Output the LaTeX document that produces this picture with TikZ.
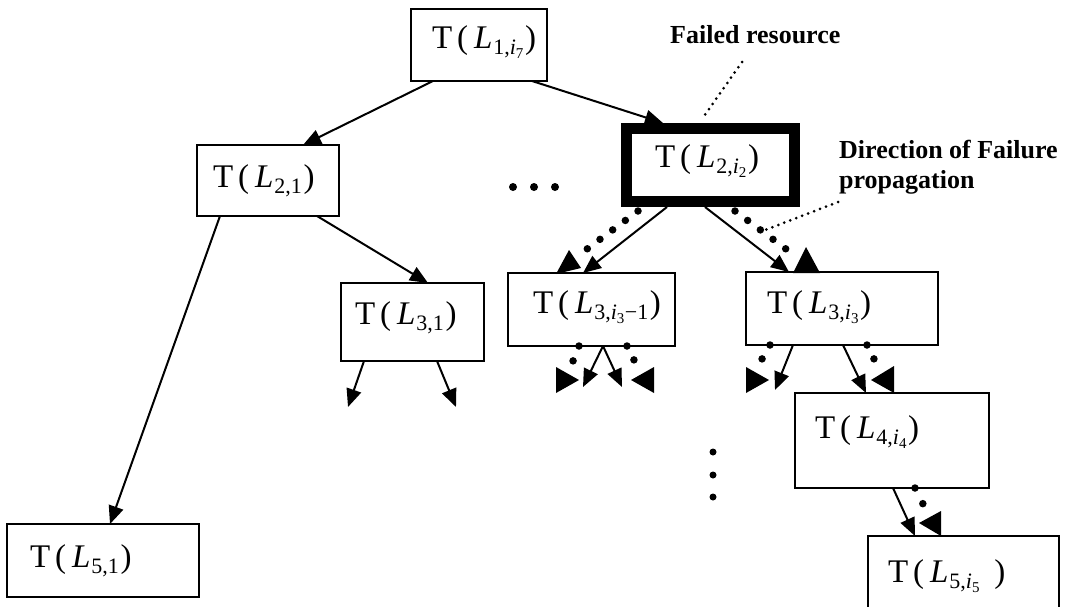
\documentclass[tikz,border=0pt]{standalone}
\usepackage{fontspec}
\setmainfont{Liberation Serif}
\usetikzlibrary{arrows.meta,calc}

% subscript and second-level subscript in text fonts
\newcommand\sub[1]{\raisebox{-0.19em}{\fontsize{22}{22}\selectfont #1}}
\newcommand\ssub[1]{\raisebox{-0.2em}{\fontsize{15}{15}\selectfont #1}}
\newcommand\tlab[2][0.05em]{T\kern0.15em(\kern0.18em\textit{L}\kern0.03em\sub{#2}\kern#1)}
\newcommand\iv[1]{\textit{i}\ssub{#1}}

\begin{document}
\begin{tikzpicture}[x=1pt,y=-1pt,
  box/.style={draw, line width=2.2pt, anchor=north west, inner ysep=0pt,
    outer sep=0pt, align=left, font=\fontsize{33}{40}\selectfont},
  link/.style={line width=2pt, -{Triangle[length=18pt,width=15pt]}},
  prop/.style={line width=7.5pt, line cap=round, dash pattern=on 0pt off #1},
  prop/.default=15.8pt,
  prophead/.style={fill=black},
  callout/.style={line width=3pt, line cap=round, dash pattern=on 0pt off 6.4pt},
  note/.style={font=\fontsize{26}{30}\selectfont\bfseries, inner sep=0pt, anchor=base west}
]
\useasboundingbox (0,0) rectangle (1068,606);
\clip (0,0) rectangle (1068,606);

% tree of resources
\node[box, inner xsep=21pt, text width=94pt, text height=39pt, text depth=33pt]
  (L1) at (411,9) {\tlab{1,\iv{7}}};
\node[box, inner xsep=16pt, text width=110pt, text height=42pt, text depth=29pt]
  (L21) at (197,145) {\tlab{2,1}};
\node[box, line width=11pt, outer sep=5.5pt, inner xsep=28.5pt, text width=111pt,
  text height=38.5pt, text depth=34.5pt]
  (L2i2) at (621,123) {\tlab{2,\iv{2}}};
\node[box, inner xsep=14pt, text width=115pt, text height=41pt, text depth=37pt]
  (L31) at (341,283) {\tlab{3,1}};
\node[box, inner xsep=25pt, text width=117pt, text height=40pt, text depth=33pt]
  (L3i3m1) at (508,273) {\tlab{3,\iv{3}\kern0.02em−1}};
\node[box, inner xsep=21pt, text width=150pt, text height=41pt, text depth=32pt]
  (L3i3) at (746,272) {\tlab{3,\iv{3}}};
\node[box, inner xsep=20pt, text width=154pt, text height=45pt, text depth=50pt]
  (L4) at (795,393) {\tlab{4,\iv{4}}};
\node[box, inner xsep=23pt, text width=146pt, text height=43pt, text depth=30pt]
  (L51) at (7,524) {\tlab{5,1}};
\node[box, inner xsep=20pt, text width=151pt, text height=46pt, text depth=40pt]
  (L5i5) at (868,536) {\tlab[0.45em]{5,\iv{5}}};

% annotations
\node[note] (fr) at (670,43) {Failed resource};
\node[note] (dir1) at (839,158) {Direction of Failure};
\node[note] (dir2) at (839,188) {propagation};
\coordinate (frend) at (742,62);
\coordinate (dirend) at (838,202);
\draw[callout] (frend) -- ($(702,0 |- L2i2.north)+(0,-4)$);
\draw[callout] (dirend) -- (760,232);

% ellipses
\foreach \x in {513,534,555} \fill (\x,187) circle (4pt);
\foreach \y in {452,475,497} \fill (713,\y) circle (3.5pt);

% links
\coordinate (o31a) at (348,407);
\coordinate (o31b) at (456,407);
\coordinate (o3ma) at (583,387);
\coordinate (o3mb) at (622,387);
\coordinate (o3a) at (775,390);
\draw[link] (433,0 |- L1.south) -- (303,0 |- L21.north);
\draw[link] (532,0 |- L1.south) -- (663,0 |- L2i2.north);
\draw[link] (220,0 |- L21.south) -- (110,0 |- L51.north);
\draw[link] (317,0 |- L21.south) -- (428,0 |- L31.north);
\draw[link] (364,0 |- L31.south) -- (o31a);
\draw[link] (437,0 |- L31.south) -- (o31b);
\draw[link] (667,0 |- L2i2.south) -- (583,0 |- L3i3m1.north);
\draw[link] (705,0 |- L2i2.south) -- (789,0 |- L3i3.north);
\draw[link] (603,0 |- L3i3m1.south) -- (o3ma);
\draw[link] (603,0 |- L3i3m1.south) -- (o3mb);
\draw[link] (793,0 |- L3i3.south) -- (o3a);
\draw[link] (843,0 |- L3i3.south) -- (866,0 |- L4.north);
\draw[link] (893,0 |- L4.south) -- (915,0 |- L5i5.north);

% direction of failure propagation
\draw[prop] ($(638,0 |- L2i2.south)+(0,4)$) -- (587,249);
\fill[prophead] (556,274) -- (581,268) -- (569,250) -- cycle;
\draw[prop] ($(735,0 |- L2i2.south)+(0,4)$) -- (786,249);
\fill[prophead] (793,273) -- (806,247) -- (820,273) -- cycle;

\draw[prop=16pt] (579,0 |- L3i3m1.south) -- (573,361);
\fill[prophead] (556,367) -- (556,393) -- (579,380) -- cycle;
\draw[prop=15.5pt] (627,0 |- L3i3m1.south) -- (634,360);
\fill[prophead] (654,367) -- (654,393) -- (631,380) -- cycle;

\draw[prop=16pt] (770,0 |- L3i3.south) -- (762,359);
\fill[prophead] (746,367) -- (746,393) -- (769,380) -- cycle;
\draw[prop=15.5pt] (867,0 |- L3i3.south) -- (874,359);
\fill[prophead] (894,366) -- (894,393) -- (871,380) -- cycle;

\draw[prop=17.5pt] (915,0 |- L4.south) -- (923,504);
\fill[prophead] (941,511) -- (941,536) -- (919,523) -- cycle;
\end{tikzpicture}
\end{document}
